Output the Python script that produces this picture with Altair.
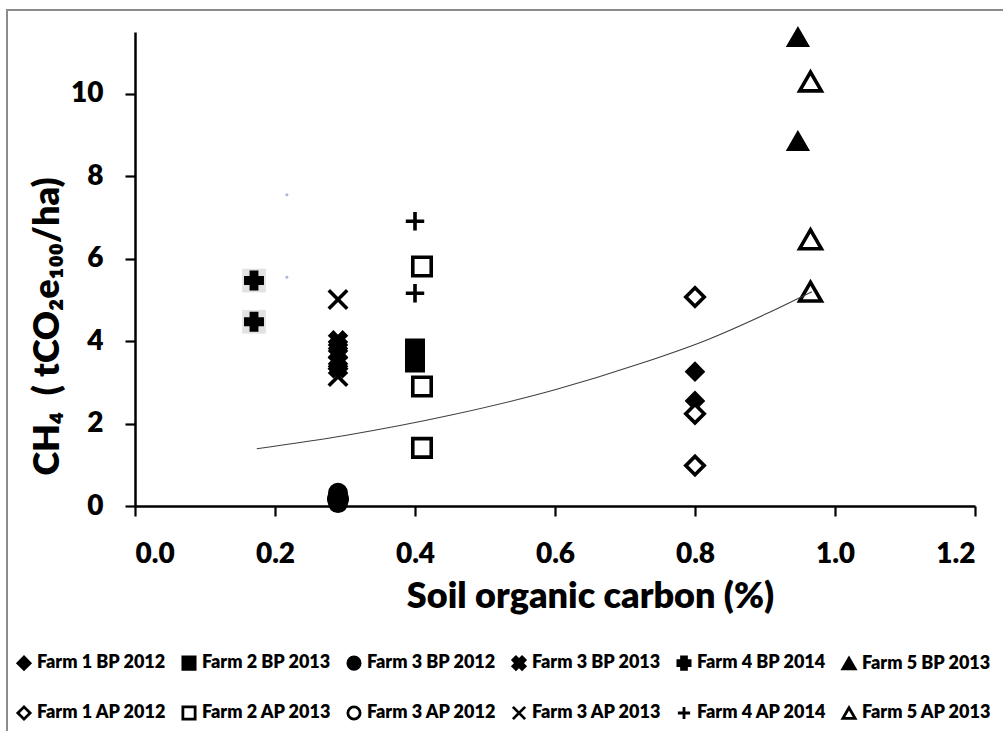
import altair as alt
import pandas as pd

# Legend order: "before planting" series on the first row, "after planting" on the second
series_order = [
    "Farm 1 BP 2012", "Farm 2 BP 2013", "Farm 3 BP 2012",
    "Farm 3 BP 2013", "Farm 4 BP 2014", "Farm 5 BP 2013",
    "Farm 1 AP 2012", "Farm 2 AP 2013", "Farm 3 AP 2012",
    "Farm 3 AP 2013", "Farm 4 AP 2014", "Farm 5 AP 2013",
]

X_BOLD = ("M-1,-0.5L-0.5,-1L0,-0.5L0.5,-1L1,-0.5L0.5,0"
          "L1,0.5L0.5,1L0,0.5L-0.5,1L-1,0.5L-0.5,0Z")
X_THIN = "M-1,-1L1,1M-1,1L1,-1"
PLUS_THIN = "M-1,0L1,0M0,-1L0,1"

series_shapes = [
    "diamond", "square", "circle", X_BOLD, "cross", "triangle-up",
    "diamond", "square", "circle", X_THIN, PLUS_THIN, "triangle-up",
]
series_fills = ["black"] * 6 + ["white"] * 6
series_strokes = ["black"] * 12

# Soil organic carbon (%) and CH4 emission (tCO2e100/ha) per series
farm1_bp_soc = [0.80, 0.80]
farm1_bp_ch4 = [3.26, 2.55]
farm1_ap_soc = [0.80, 0.80, 0.80]
farm1_ap_ch4 = [5.07, 2.24, 0.98]

farm2_bp_soc = [0.40, 0.40, 0.40, 0.40]
farm2_bp_ch4 = [3.82, 3.70, 3.58, 3.48]
farm2_ap_soc = [0.41, 0.41, 0.41]
farm2_ap_ch4 = [5.81, 2.90, 1.41]

farm3_bp12_soc = [0.29, 0.29]
farm3_bp12_ch4 = [0.32, 0.07]
farm3_ap12_soc = [0.29]
farm3_ap12_ch4 = [0.17]

farm3_bp13_soc = [0.29, 0.29, 0.29, 0.29, 0.29]
farm3_bp13_ch4 = [4.02, 3.87, 3.71, 3.50, 3.34]
farm3_ap13_soc = [0.29, 0.29]
farm3_ap13_ch4 = [5.01, 3.14]

farm4_bp_soc = [0.17, 0.17]
farm4_bp_ch4 = [5.47, 4.47]
farm4_ap_soc = [0.40, 0.40]
farm4_ap_ch4 = [6.91, 5.16]

farm5_bp_soc = [0.947, 0.947]
farm5_bp_ch4 = [11.38, 8.86]
farm5_ap_soc = [0.965, 0.965, 0.965]
farm5_ap_ch4 = [10.30, 6.47, 5.20]

# Exponential trend line, read along its length
trend_soc = [0.174, 0.30, 0.45, 0.60, 0.721, 0.817, 0.90, 0.967]
trend_ch4 = [1.39, 1.71, 2.20, 2.82, 3.45, 4.03, 4.65, 5.20]

# Two faint stray markers
stray_soc = [0.217, 0.217]
stray_ch4 = [7.55, 5.55]

# Drawing order: the hidden open circle goes underneath everything else
draw_order = [
    ("Farm 3 AP 2012", farm3_ap12_soc, farm3_ap12_ch4),
    ("Farm 1 BP 2012", farm1_bp_soc, farm1_bp_ch4),
    ("Farm 2 BP 2013", farm2_bp_soc, farm2_bp_ch4),
    ("Farm 3 BP 2012", farm3_bp12_soc, farm3_bp12_ch4),
    ("Farm 3 BP 2013", farm3_bp13_soc, farm3_bp13_ch4),
    ("Farm 4 BP 2014", farm4_bp_soc, farm4_bp_ch4),
    ("Farm 5 BP 2013", farm5_bp_soc, farm5_bp_ch4),
    ("Farm 1 AP 2012", farm1_ap_soc, farm1_ap_ch4),
    ("Farm 2 AP 2013", farm2_ap_soc, farm2_ap_ch4),
    ("Farm 3 AP 2013", farm3_ap13_soc, farm3_ap13_ch4),
    ("Farm 4 AP 2014", farm4_ap_soc, farm4_ap_ch4),
    ("Farm 5 AP 2013", farm5_ap_soc, farm5_ap_ch4),
]

rows = []
for name, xs, ys in draw_order:
    for xv, yv in zip(xs, ys):
        rows.append({"series": name, "soc": xv, "ch4": yv})
points_df = pd.DataFrame(rows)
trend_df = pd.DataFrame({"soc": trend_soc, "ch4": trend_ch4})
stray_df = pd.DataFrame({"soc": stray_soc, "ch4": stray_ch4})

FONT = "Lato"
WEIGHT = 800

x_scale = alt.Scale(domain=[0, 1.2], nice=False, zero=False)
y_scale = alt.Scale(domain=[0, 11.5], nice=False)

x_enc = alt.X(
    "soc:Q", scale=x_scale,
    axis=alt.Axis(
        values=[0.0, 0.2, 0.4, 0.6, 0.8, 1.0, 1.2], format=".1f",
        title="Soil organic carbon (%)", labelPadding=24, titlePadding=11,
        titleX=455, titleAlign="center",
    ),
)
y_enc = alt.Y(
    "ch4:Q", scale=y_scale,
    axis=alt.Axis(
        values=[0, 2, 4, 6, 8, 10], format="d",
        title="CH\u2084\u00a0\u00a0( tCO\u2082e\u2081\u2080\u2080/ha)",
        labelPadding=22, titleAngle=270, titleAlign="center",
        titleBaseline="middle", titleX=-88, titleY=294,
    ),
)

legend_props = dict(
    title=None, orient="none", legendX=-120, legendY=622, columns=6,
    direction="horizontal",
)

frame = alt.Chart(pd.DataFrame({"k": [0]})).mark_rect(
    fillOpacity=0, stroke="#8c8c8c", strokeWidth=2
).encode(
    x=alt.value(-128), x2=alt.value(880), y=alt.value(-22), y2=alt.value(712)
)

shadow = alt.Chart(points_df).transform_filter(
    alt.datum.series == "Farm 4 BP 2014"
).mark_square(size=560, color="#e2e2e2", opacity=1).encode(x=x_enc, y=y_enc)

is_open = "indexof(datum.series, ' AP ') >= 0"
is_triangle = "indexof(datum.series, 'Farm 5') >= 0"

points = alt.Chart(points_df).mark_point(opacity=1).encode(
    x=x_enc,
    y=y_enc,
    shape=alt.Shape(
        "series:N",
        scale=alt.Scale(domain=series_order, range=series_shapes),
        legend=alt.Legend(**legend_props),
    ),
    fill=alt.Fill(
        "series:N",
        scale=alt.Scale(domain=series_order, range=series_fills),
        legend=alt.Legend(**legend_props),
    ),
    stroke=alt.Stroke(
        "series:N",
        scale=alt.Scale(domain=series_order, range=series_strokes),
        legend=alt.Legend(**legend_props),
    ),
    strokeWidth=alt.condition(is_open, alt.value(3.6), alt.value(1.5)),
    size=alt.condition(is_triangle, alt.value(470), alt.value(340)),
)

trend = alt.Chart(trend_df).mark_line(
    color="#404040", strokeWidth=1.1, interpolate="monotone"
).encode(x=x_enc, y=y_enc)

stray = alt.Chart(stray_df).mark_square(
    size=7, color="#aab4d8", opacity=1
).encode(x=x_enc, y=y_enc)

chart = alt.layer(frame, shadow, points, trend, stray).properties(
    width=840,
    height=474,
    autosize="none",
    padding={"left": 135, "top": 32, "right": 28, "bottom": 225},
    background="white",
).configure_view(
    stroke=None
).configure_axis(
    grid=False,
    domainColor="black", domainWidth=2.5,
    tickColor="black", tickWidth=2.2, tickSize=10,
    labelFont=FONT, labelFontWeight=WEIGHT, labelFontSize=28, labelColor="black",
    titleFont=FONT, titleFontWeight=WEIGHT, titleFontSize=36, titleColor="black",
).configure_legend(
    labelFont=FONT, labelFontWeight=WEIGHT, labelFontSize=18, labelColor="black",
    symbolSize=150, symbolStrokeColor="black", symbolStrokeWidth=2.8,
    columnPadding=10, rowPadding=26, labelOffset=4, padding=0, labelLimit=250,
)

chart.save("out.html", embed_options={"renderer": "svg", "actions": False})
